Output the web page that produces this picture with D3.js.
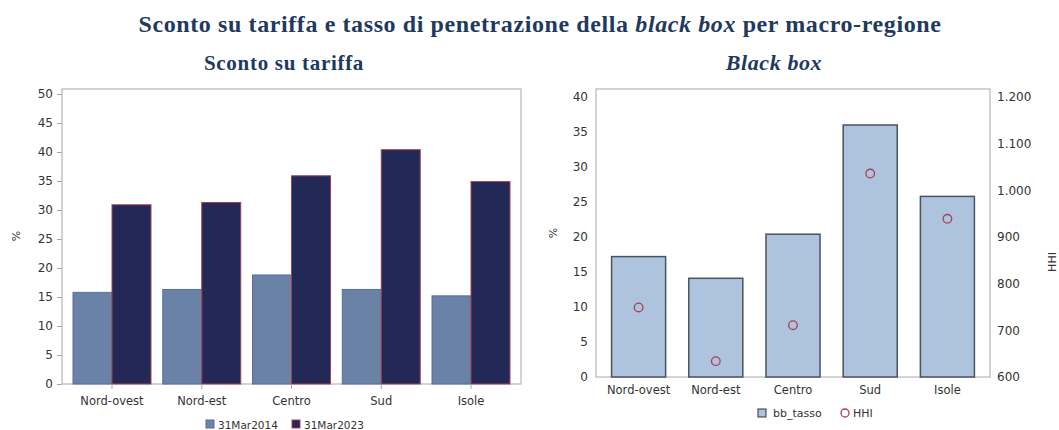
<!DOCTYPE html>
<html><head><meta charset="utf-8">
<script src="https://cdn.jsdelivr.net/npm/d3@7"></script>
<style>
body{margin:0;background:#fff;}
svg{display:block;}
.tick text{font-family:"DejaVu Sans",sans-serif;fill:#333;}
</style></head>
<body><svg id="c" width="1059" height="430"></svg>
<script>
const regions = ["Nord-ovest","Nord-est","Centro","Sud","Isole"];
const sconto2014 = [15.8,16.3,18.8,16.3,15.2];
const sconto2023 = [30.9,31.3,35.9,40.4,34.9];
const bbTasso = [17.2,14.1,20.4,36.0,25.8];
const hhi = [749,634,711,1036,939];
const leftTicks = [0,5,10,15,20,25,30,35,40,45,50];
const rightTicks = [0,5,10,15,20,25,30,35,40];
const hhiTicks = [600,700,800,900,1000,1100,1200];
const seriesNames = ["31Mar2014","31Mar2023"];

const svg = d3.select("#c");
const fmtIt = d3.formatLocale({decimal:",",thousands:".",grouping:[3],currency:["€",""]}).format(",d");
const titleColor = "#1F3A5F";

// Titles
const t = svg.append("text").attr("x",540).attr("y",32).attr("text-anchor","middle")
  .attr("font-family","'Liberation Serif',serif").attr("font-weight","bold").attr("font-size",24)
  .attr("letter-spacing",0.6).attr("fill",titleColor);
t.append("tspan").text("Sconto su tariffa e tasso di penetrazione della ");
t.append("tspan").attr("font-style","italic").text("black box");
t.append("tspan").text(" per macro-regione");
svg.append("text").attr("x",284).attr("y",70).attr("text-anchor","middle")
  .attr("font-family","'Liberation Serif',serif").attr("font-weight","bold").attr("font-size",21)
  .attr("letter-spacing",0.7).attr("fill",titleColor)
  .text("Sconto su tariffa");
svg.append("text").attr("x",774).attr("y",70).attr("text-anchor","middle")
  .attr("font-family","'Liberation Serif',serif").attr("font-weight","bold").attr("font-style","italic").attr("font-size",22)
  .attr("letter-spacing",0.6).attr("fill",titleColor)
  .text("Black box");

// ---------- Left chart ----------
const L = {x0:62, x1:521, y0:89, yb:384};
const yL = d3.scaleLinear().domain([0,50]).range([384,94]);
const xL = d3.scaleBand().domain(regions).range([73,510]).paddingInner(0.131).paddingOuter(0);
const xL2 = d3.scaleBand().domain([0,1]).range([0,xL.bandwidth()]);
const gL = svg.append("g");
gL.append("rect").attr("x",L.x0).attr("y",L.y0).attr("width",L.x1-L.x0).attr("height",L.yb-L.y0)
  .attr("fill","none").attr("stroke","#A4A8AC").attr("stroke-width",1);
const grpL = gL.selectAll("g.grp").data(regions).join("g").attr("transform",d=>`translate(${xL(d)},0)`);
grpL.append("rect").attr("x",xL2(0)).attr("width",xL2.bandwidth())
  .attr("y",(d,i)=>yL(sconto2014[i])).attr("height",(d,i)=>yL(0)-yL(sconto2014[i]))
  .attr("fill","#6A82A5").attr("stroke","#5570A0").attr("stroke-width",1);
grpL.append("rect").attr("x",xL2(1)).attr("width",xL2.bandwidth())
  .attr("y",(d,i)=>yL(sconto2023[i])).attr("height",(d,i)=>yL(0)-yL(sconto2023[i]))
  .attr("fill","#232957").attr("stroke","#A8404F").attr("stroke-width",1);
const axL = gL.append("g").attr("transform",`translate(${L.x0},0)`)
  .call(d3.axisLeft(yL).tickValues(leftTicks).tickSize(5).tickPadding(4));
axL.select(".domain").remove();
axL.selectAll("line").attr("stroke","#A4A8AC");
axL.selectAll("text").attr("font-size",12);
const axLb = gL.append("g").attr("transform",`translate(0,${L.yb})`)
  .call(d3.axisBottom(xL).tickSize(5).tickPadding(8));
axLb.select(".domain").remove();
axLb.selectAll("line").attr("stroke","#A4A8AC");
axLb.selectAll("text").attr("font-size",11.5);
gL.append("text").attr("transform","translate(20,236) rotate(-90)").attr("text-anchor","middle")
  .attr("font-family","'DejaVu Sans',sans-serif").attr("font-size",11).attr("fill","#333").text("%");
// legend left
const legL = gL.append("g");
const legPos = [206,292];
const legFill = ["#6A82A5","#232957"], legStroke=["#5570A0","#A8404F"];
seriesNames.forEach((s,i)=>{
  legL.append("rect").attr("x",legPos[i]).attr("y",420).attr("width",8).attr("height",8)
    .attr("fill",legFill[i]).attr("stroke",legStroke[i]).attr("stroke-width",1);
  legL.append("text").attr("x",legPos[i]+12).attr("y",428.5).attr("font-family","'DejaVu Sans',sans-serif")
    .attr("font-size",10.5).attr("fill","#333").text(s);
});

// ---------- Right chart ----------
const R = {x0:596, x1:990, y0:89, yb:377};
const yR = d3.scaleLinear().domain([0,40]).range([377,97]);
const yH = d3.scaleLinear().domain([600,1200]).range([377,97]);
const xR = d3.scaleBand().domain(regions).range([600,986]).paddingInner(0.3).paddingOuter(0.15);
const gR = svg.append("g");
gR.append("rect").attr("x",R.x0).attr("y",R.y0).attr("width",R.x1-R.x0).attr("height",R.yb-R.y0)
  .attr("fill","none").attr("stroke","#A4A8AC").attr("stroke-width",1);
gR.selectAll("rect.bar").data(regions).join("rect").attr("class","bar")
  .attr("x",d=>xR(d)).attr("width",xR.bandwidth())
  .attr("y",(d,i)=>yR(bbTasso[i])).attr("height",(d,i)=>yR(0)-yR(bbTasso[i]))
  .attr("fill","#AEC3DE").attr("stroke","#4A5260").attr("stroke-width",1.5);
gR.selectAll("circle.hhi").data(regions).join("circle").attr("class","hhi")
  .attr("cx",d=>xR(d)+xR.bandwidth()/2).attr("cy",(d,i)=>yH(hhi[i])).attr("r",4.3)
  .attr("fill","none").attr("stroke","#A8404F").attr("stroke-width",1.3);
const axR = gR.append("g").attr("transform",`translate(${R.x0},0)`)
  .call(d3.axisLeft(yR).tickValues(rightTicks).tickSize(0).tickPadding(8));
axR.select(".domain").remove();
axR.selectAll("text").attr("font-size",12);
const axH = gR.append("g").attr("transform",`translate(${R.x1},0)`)
  .call(d3.axisRight(yH).tickValues(hhiTicks).tickSize(0).tickPadding(7).tickFormat(fmtIt));
axH.select(".domain").remove();
axH.selectAll("text").attr("font-size",12);
const axRb = gR.append("g").attr("transform",`translate(0,${R.yb})`)
  .call(d3.axisBottom(xR).tickSize(0).tickPadding(9));
axRb.select(".domain").remove();
axRb.selectAll("text").attr("font-size",11.5);
gR.append("text").attr("transform","translate(557,233) rotate(-90)").attr("text-anchor","middle")
  .attr("font-family","'DejaVu Sans',sans-serif").attr("font-size",11).attr("fill","#333").text("%");
gR.append("text").attr("transform","translate(1056,262) rotate(-90)").attr("text-anchor","middle")
  .attr("font-family","'DejaVu Sans',sans-serif").attr("font-size",11).attr("fill","#333").text("HHI");
// legend right
gR.append("rect").attr("x",758).attr("y",409).attr("width",8).attr("height",8)
  .attr("fill","#AEC3DE").attr("stroke","#333").attr("stroke-width",1);
gR.append("text").attr("x",773).attr("y",417).attr("font-family","'DejaVu Sans',sans-serif")
  .attr("font-size",11).attr("fill","#333").text("bb_tasso");
gR.append("circle").attr("cx",845).attr("cy",413).attr("r",4)
  .attr("fill","none").attr("stroke","#A8404F").attr("stroke-width",1.3);
gR.append("text").attr("x",853).attr("y",417).attr("font-family","'DejaVu Sans',sans-serif")
  .attr("font-size",11).attr("fill","#333").text("HHI");
</script></body></html>
